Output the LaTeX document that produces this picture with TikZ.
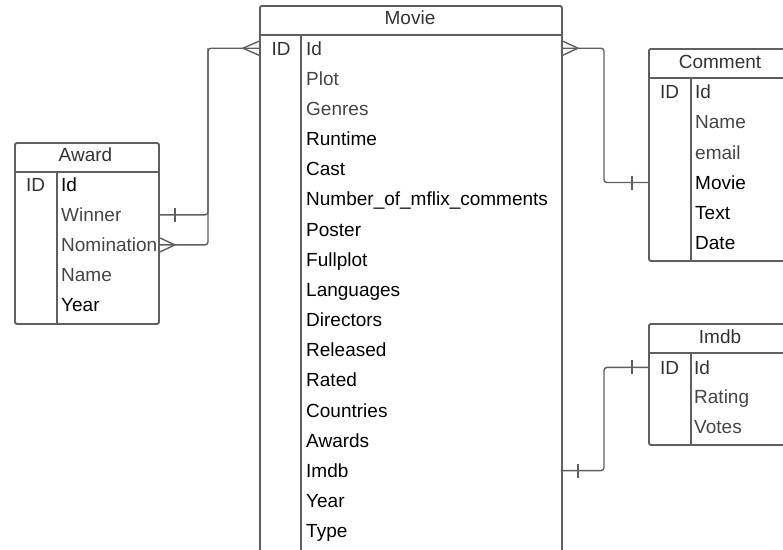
\documentclass[tikz,border=0pt]{standalone}
\usepackage{fontspec}
\setmainfont{Liberation Sans}
\usepackage{tikz}
\definecolor{edge}{HTML}{5F5F5F}
\definecolor{dark}{HTML}{333333}
\definecolor{soft}{HTML}{454545}

\begin{document}
\begin{tikzpicture}[x=1pt,y=-1pt,
  tbl/.style={draw=edge,line width=1.9pt,rounded corners=2pt,inner sep=0pt,anchor=north west},
  rule/.style={draw=edge,line width=1.9pt},
  link/.style={draw=edge,line width=1.4pt,rounded corners=3pt},
  tick/.style={draw=edge,line width=1.4pt},
  title/.style={inner sep=0pt,text=dark,font=\fontsize{19}{22}\selectfont},
  field/.style={anchor=base west,inner sep=0pt,font=\fontsize{19}{22}\selectfont},
  key/.style={anchor=base,inner sep=0pt,text=dark,font=\fontsize{19}{22}\selectfont}]
\useasboundingbox (0,0) rectangle (783,549);
\clip (0,0) rectangle (783,549);

% Movie
\node [tbl,minimum width=302pt,minimum height=600pt] (movie) at (259,5) {};
\node [title] (movie-title) at (410,17.5) {Movie};
\draw [rule] (259,35) -- (561,35);
\draw [rule] (301,35) -- (301,605);
\node [key] (movie-key) at (281,55) {ID};
\foreach \c/\t [count=\i] in {dark/Id,soft/Plot,soft/Genres,black/Runtime,black/Cast,
    black/Number\_of\_mflix\_comments,black/Poster,black/Fullplot,black/Languages,
    black/Directors,black/Released,black/Rated,black/Countries,black/Awards,black/Imdb,
    black/Year,black/Type}
  \node [field,text=\c] (movie-\i) at (306,{55+30.17*(\i-1)}) {\t};

% Award
\node [tbl,minimum width=144pt,minimum height=181pt] (award) at (14,142) {};
\node [title] (award-title) at (85.5,155) {Award};
\draw [rule] (14,172) -- (158,172);
\draw [rule] (57,172) -- (57,323);
\node [key] (award-key) at (35.5,191.7) {ID};
\foreach \c/\t [count=\i] in {black/Id,soft/Winner,soft/Nomination,soft/Name,black/Year}
  \node [field,text=\c] (award-\i) at (61,{191.7+30*(\i-1)}) {\t};

% Comment
\node [tbl,minimum width=150pt,minimum height=212pt] (comment) at (648,48) {};
\node [title] (comment-title) at (720,62) {Comment};
\draw [rule] (648,78) -- (798,78);
\draw [rule] (691,78) -- (691,260);
\node [key] (comment-key) at (669.5,98.4) {ID};
\foreach \c/\t [count=\i] in {dark/Id,soft/Name,soft/email,black/Movie,black/Text,black/Date}
  \node [field,text=\c] (comment-\i) at (695,{98.4+30.3*(\i-1)}) {\t};

% Imdb
\node [tbl,minimum width=150pt,minimum height=121pt] (imdb) at (648,323) {};
\node [title] (imdb-title) at (720,337) {Imdb};
\draw [rule] (648,353) -- (798,353);
\draw [rule] (691,353) -- (691,444);
\node [key] (imdb-key) at (669.5,374.2) {ID};
\foreach \c/\t [count=\i] in {dark/Id,soft/Rating,soft/Votes}
  \node [field,text=\c] (imdb-\i) at (694,{374.2+29.7*(\i-1)}) {\t};

\coordinate (mid-w) at (movie.west |- movie-1);
\coordinate (mid-e) at (movie.east |- movie-1);
\coordinate (mimdb-e) at (movie.east |- movie-15);
\coordinate (awin) at (award.east |- award-2);
\coordinate (anom) at (award.east |- award-3);
\coordinate (cmov) at (comment.west |- comment-4);
\coordinate (iid) at (imdb.west |- imdb-1);

\draw [link] (mid-w) -- (208,0 |- mid-w) |- (anom);
\draw [link] (awin) -| (208,0 |- mid-w);
\draw [link] (mid-e) -- (604,0 |- mid-e) |- (cmov);
\draw [link] (mimdb-e) -- (604,0 |- mimdb-e) |- (iid);

\draw [tick] (mid-w) ++(0,-7) -- ++(-16,7) -- ++(16,7);
\draw [tick] (mid-e) ++(0,-7) -- ++(15,7) -- ++(-15,7);
\draw [tick] (anom) ++(0,-7) -- ++(15,7) -- ++(-15,7);
\draw [tick] (awin) ++(15,-7) -- ++(0,14);
\draw [tick] (cmov) ++(-16,-7) -- ++(0,14);
\draw [tick] (iid) ++(-16,-7) -- ++(0,14);
\draw [tick] (mimdb-e) ++(15,-7) -- ++(0,14);
\end{tikzpicture}
\end{document}
